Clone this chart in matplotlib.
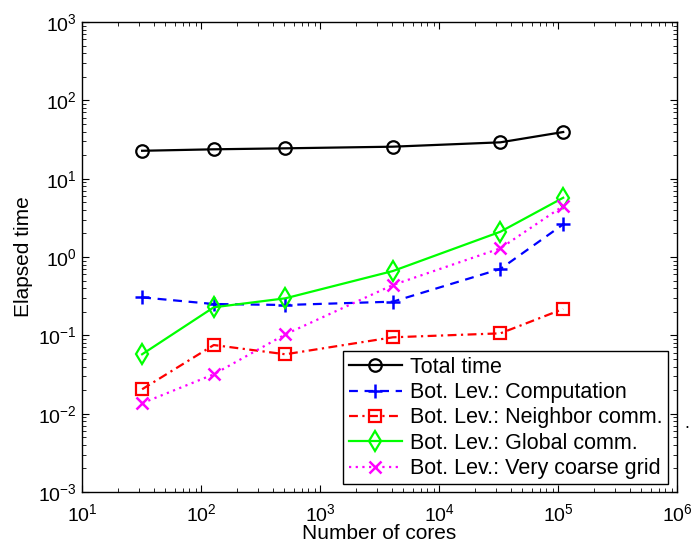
import matplotlib
matplotlib.use('Agg')
import matplotlib.pyplot as plt

plt.rcParams['font.family'] = ['Liberation Sans', 'DejaVu Sans']
plt.rcParams['mathtext.fontset'] = 'custom'
plt.rcParams['mathtext.rm'] = 'Liberation Sans'

# number of cores
cores = [32, 128, 512, 4096, 32768, 110592]

# elapsed times
total_time = [22.7, 23.7, 24.4, 25.6, 29.1, 39.4]
computation = [0.305, 0.251, 0.244, 0.269, 0.703, 2.61]
neighbor_comm = [0.0205, 0.0752, 0.0573, 0.0944, 0.106, 0.217]
global_comm = [0.0573, 0.228, 0.297, 0.662, 2.10, 5.71]
coarse_grid = [0.0136, 0.0318, 0.103, 0.439, 1.29, 4.48]

labels = ['Total time', 'Bot. Lev.: Computation', 'Bot. Lev.: Neighbor comm.',
          'Bot. Lev.: Global comm.', 'Bot. Lev.: Very coarse grid']

fig = plt.figure(figsize=(6.93, 5.49), dpi=100)
ax = fig.add_axes([82/693, 1-492/549, 595/693, 470/549])

ms = 9
lw = 1.6
ax.plot(cores, total_time, 'k-', marker='o', mfc='none', mew=1.6, ms=ms, lw=lw, label=labels[0])
ax.plot(cores, computation, color='#0000ff', ls=(0, (4, 3)), marker='+', mew=1.8, ms=ms+1, lw=lw, label=labels[1])
ax.plot(cores, neighbor_comm, color='#ff0000', ls=(0, (4, 2, 1, 2)), marker='s', mfc='none', mew=1.6, ms=ms-1, lw=lw, label=labels[2])
ax.plot(cores, global_comm, color='#00ff00', ls='-', marker='d', mfc='none', mew=1.6, ms=ms+1, lw=lw, label=labels[3])
ax.plot(cores, coarse_grid, color='#ff00ff', ls=(0, (1, 2)), marker='x', mew=1.8, ms=ms-1, lw=lw, label=labels[4])

ax.set_xscale('log')
ax.set_yscale('log')
ax.set_xlim(1e1, 1e6)
ax.set_ylim(1e-3, 1e3)
ax.set_xlabel('Number of cores', fontsize=15, labelpad=-1)
ax.set_ylabel('Elapsed time', fontsize=15, labelpad=4)
ax.tick_params(which='both', direction='in', top=True, right=True, labelsize=14)
ax.tick_params(axis='x', which='major', pad=8)
ax.tick_params(which='major', length=5)
ax.tick_params(which='minor', length=3)
for s in ax.spines.values():
    s.set_linewidth(1.0)

leg = ax.legend(loc='lower left', bbox_to_anchor=(0.439, 0.016), borderaxespad=0,
                fontsize=15.5, fancybox=False, framealpha=1, edgecolor='black',
                handlelength=2.5, handletextpad=0.35, labelspacing=0.2, borderpad=0.25)
leg.get_frame().set_linewidth(1.0)

fig.text(687/693, 1-423/549, '.', fontsize=13, ha='center', va='center')

fig.savefig('out.png', dpi=100)
